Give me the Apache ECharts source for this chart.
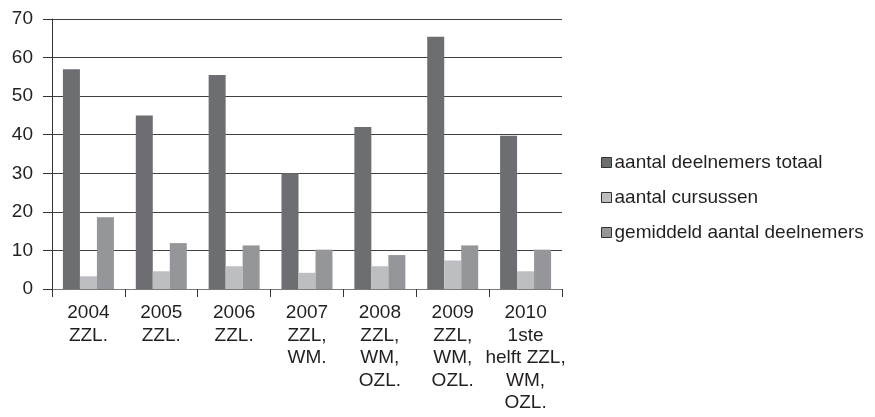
<!DOCTYPE html>
<html>
<head>
<meta charset="utf-8">
<script src="https://cdn.jsdelivr.net/npm/echarts@6/dist/echarts.min.js"></script>
<style>
  html, body { margin: 0; padding: 0; background: #fff; }
  #chart { width: 875px; height: 417px; }
</style>
</head>
<body>
<div id="chart"></div>
<script>
// Course years and locations
const categories = [
  '2004\nZZL.',
  '2005\nZZL.',
  '2006\nZZL.',
  '2007\nZZL,\nWM.',
  '2008\nZZL,\nWM,\nOZL.',
  '2009\nZZL,\nWM,\nOZL.',
  '2010\n1ste\nhelft ZZL,\nWM,\nOZL.'
];

// Series values
const deelnemersTotaal = [57, 45, 55.5, 30, 42, 65.4, 39.7];
const aantalCursussen = [3.3, 4.6, 5.9, 4.2, 5.9, 7.4, 4.6];
const gemiddeldDeelnemers = [18.6, 11.9, 11.3, 10.2, 8.8, 11.3, 10.2];

const seriesNames = ['aantal deelnemers totaal', 'aantal cursussen', 'gemiddeld aantal deelnemers'];

// Value axis ticks
const yMin = 0, yMax = 70, yStep = 10;

const FONT = '"Liberation Sans", Arial, sans-serif';
const TEXT = '#231f20';
const FS = 19;

const chart = echarts.init(document.getElementById('chart'), null, { renderer: 'canvas' });

const barStyle = (color) => ({ color: color });

chart.setOption({
  animation: false,
  backgroundColor: '#ffffff',
  textStyle: { fontFamily: FONT, color: TEXT },
  grid: { left: 52, right: 313, top: 19, bottom: 128, containLabel: false },
  legend: {
    orient: 'vertical',
    left: 596,
    top: 148,
    itemWidth: 10,
    itemHeight: 10,
    itemGap: 16,
    icon: 'rect',
    itemStyle: { borderColor: '#333333', borderWidth: 1 },
    textStyle: { fontFamily: FONT, fontSize: FS, color: TEXT, padding: [0, 0, 0, -2] },
    data: seriesNames
  },
  xAxis: {
    type: 'category',
    data: categories,
    axisLine: { show: true, lineStyle: { color: '#7a7a7a', width: 1 } },
    axisTick: { show: true, length: 8, lineStyle: { color: '#333333', width: 1 } },
    axisLabel: {
      interval: 0,
      margin: 13,
      fontFamily: FONT,
      fontSize: FS,
      color: TEXT,
      lineHeight: 22.5,
      align: 'center'
    },
    splitLine: { show: false }
  },
  yAxis: {
    type: 'value',
    min: yMin,
    max: yMax,
    interval: yStep,
    axisLine: { show: true, lineStyle: { color: '#333333', width: 1 } },
    axisTick: { show: true, length: 9, lineStyle: { color: '#333333', width: 1 } },
    axisLabel: { margin: 19, fontFamily: FONT, fontSize: FS, color: TEXT },
    splitLine: { show: true, lineStyle: { color: '#404040', width: 1 } }
  },
  series: [
    {
      name: seriesNames[0],
      type: 'bar',
      data: deelnemersTotaal,
      barWidth: 17,
      barGap: '0%',
      itemStyle: barStyle('#6d6e72')
    },
    {
      name: seriesNames[1],
      type: 'bar',
      data: aantalCursussen,
      barWidth: 17,
      barGap: '0%',
      itemStyle: barStyle('#bdbec2')
    },
    {
      name: seriesNames[2],
      type: 'bar',
      data: gemiddeldDeelnemers,
      barWidth: 17,
      barGap: '0%',
      itemStyle: barStyle('#95969a')
    }
  ]
});
</script>
</body>
</html>
